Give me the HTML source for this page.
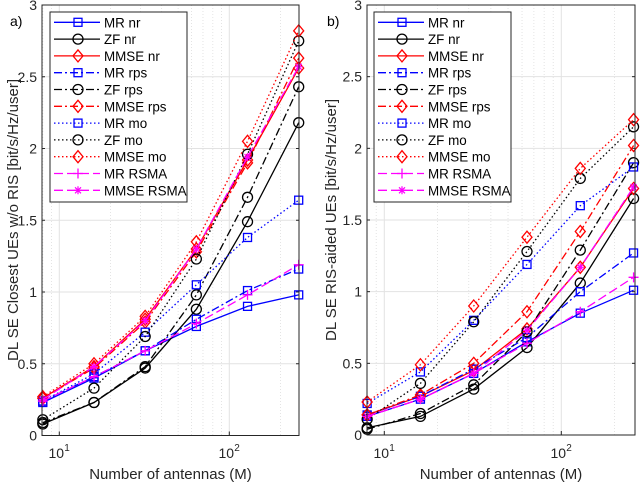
<!DOCTYPE html>
<html><head><meta charset="utf-8">
<style>
body{margin:0;background:#fff;}
svg{display:block;font-family:"Liberation Sans",sans-serif;}
</style></head>
<body>
<svg id="chart" width="640" height="483" viewBox="0 0 640 483" xmlns="http://www.w3.org/2000/svg"></svg>
<script>
const antennas=[8,16,32,64,128,256];
const yTicks=[0,0.5,1,1.5,2,2.5,3];
const yTickLabels=["0","0.5","1","1.5","2","2.5","3"];
const seriesNames=["MR nr","ZF nr","MMSE nr","MR rps","ZF rps","MMSE rps","MR mo","ZF mo","MMSE mo","MR RSMA","MMSE RSMA"];
const leftMRnr=[0.23,0.40,0.59,0.76,0.90,0.98];
const leftZFnr=[0.08,0.23,0.47,0.88,1.49,2.18];
const leftMMSEnr=[0.26,0.48,0.81,1.30,1.92,2.56];
const leftMRrps=[0.24,0.41,0.59,0.81,1.01,1.16];
const leftZFrps=[0.09,0.23,0.48,0.98,1.66,2.43];
const leftMMSErps=[0.26,0.47,0.79,1.28,1.90,2.63];
const leftMRmo=[0.24,0.43,0.72,1.05,1.38,1.64];
const leftZFmo=[0.11,0.33,0.69,1.23,1.96,2.75];
const leftMMSEmo=[0.27,0.50,0.83,1.35,2.05,2.82];
const leftMRrsma=[0.24,0.41,0.59,0.78,0.98,1.19];
const leftMMSErsma=[0.25,0.48,0.80,1.30,1.94,2.57];
const rightMRnr=[0.13,0.25,0.43,0.65,0.85,1.01];
const rightZFnr=[0.05,0.13,0.32,0.61,1.06,1.65];
const rightMMSEnr=[0.14,0.27,0.45,0.74,1.17,1.72];
const rightMRrps=[0.14,0.27,0.46,0.68,1.00,1.27];
const rightZFrps=[0.04,0.15,0.35,0.72,1.29,1.90];
const rightMMSErps=[0.14,0.28,0.50,0.86,1.42,2.02];
const rightMRmo=[0.22,0.44,0.80,1.19,1.60,1.87];
const rightZFmo=[0.11,0.36,0.79,1.28,1.79,2.15];
const rightMMSEmo=[0.23,0.49,0.90,1.38,1.86,2.20];
const rightMRrsma=[0.13,0.25,0.43,0.64,0.86,1.10];
const rightMMSErsma=[0.13,0.25,0.43,0.73,1.17,1.73];

const styles=[
 {c:"#0000ff",d:"",m:"sq"},{c:"#000",d:"",m:"ci"},{c:"#ff0000",d:"",m:"di"},
 {c:"#0000ff",d:"8,3,2,3",m:"sq"},{c:"#000",d:"8,3,2,3",m:"ci"},{c:"#ff0000",d:"8,3,2,3",m:"di"},
 {c:"#0000ff",d:"1.5,2.5",m:"sq"},{c:"#000",d:"1.5,2.5",m:"ci"},{c:"#ff0000",d:"1.5,2.5",m:"di"},
 {c:"#ff00ff",d:"9,4",m:"pl"},{c:"#ff00ff",d:"9,4",m:"st"}];
const NS="http://www.w3.org/2000/svg";
const svg=document.getElementById('chart');
function el(t,a,p){const e=document.createElementNS(NS,t);for(const k in a)e.setAttribute(k,a[k]);(p||svg).appendChild(e);return e;}
function marker(g,m,x,y,c){
 let e;
 if(m==="sq"){e=el('rect',{x:x-4,y:y-4,width:8,height:8,fill:'none',stroke:c,'stroke-width':1.3},g);}
 else if(m==="ci"){e=el('circle',{cx:x,cy:y,r:5,fill:'none',stroke:c,'stroke-width':1.3},g);}
 else if(m==="di"){e=el('path',{d:`M${x} ${y-6}L${x+5} ${y}L${x} ${y+6}L${x-5} ${y}Z`,fill:'none',stroke:c,'stroke-width':1.3},g);}
 else if(m==="pl"){e=el('path',{d:`M${x-5} ${y}H${x+5}M${x} ${y-5}V${y+5}`,fill:'none',stroke:c,'stroke-width':1.3},g);}
 else {e=el('path',{d:`M${x-4} ${y}H${x+4}M${x} ${y-4}V${y+4}M${x-3} ${y-3}L${x+3} ${y+3}M${x-3} ${y+3}L${x+3} ${y-3}`,fill:'none',stroke:c,'stroke-width':1.2},g);}
 
 
}
function panel(p){
 const g=el('g',{});
 
 
 const xs=v=>p.x10+(Math.log10(v)-1)*p.dec;
 const ys=v=>p.y0-(v/3)*(p.y0-p.y3);
 el('rect',{x:p.L,y:p.y3,width:p.R-p.L,height:p.y0-p.y3,fill:'#fff'},g);
 for(let d=1;d<=2;d++)for(let k=2;k<=9;k++){const val=k*Math.pow(10,d);if(val<8||val>256)continue;const x=xs(val);el('line',{x1:x,x2:x,y1:p.y3,y2:p.y0,stroke:'#ddd','stroke-width':0.8,'stroke-dasharray':'1,2'},g);}
 [8,9].forEach(v=>{const x=xs(v);el('line',{x1:x,x2:x,y1:p.y3,y2:p.y0,stroke:'#ddd','stroke-width':0.8,'stroke-dasharray':'1,2'},g);});
 [10,100].forEach(v=>{const x=xs(v);el('line',{x1:x,x2:x,y1:p.y3,y2:p.y0,stroke:'#e2e2e2','stroke-width':1},g);});
 yTicks.forEach((v,i)=>{const y=ys(v);el('line',{x1:p.L,x2:p.R,y1:y,y2:y,stroke:'#e2e2e2','stroke-width':1},g);
  const t=el('text',{x:p.L-5,y:y+5,'text-anchor':'end','font-size':14,fill:'#262626'},g);t.textContent=yTickLabels[i];
  
  el('line',{x1:p.L,x2:p.L+3,y1:y,y2:y,stroke:'#262626'},g);el('line',{x1:p.R-3,x2:p.R,y1:y,y2:y,stroke:'#262626'},g);});
 [[10,"1"],[100,"2"]].forEach(([v,e])=>{const x=xs(v);const t=el('text',{x:x-3,y:458,'text-anchor':'middle','font-size':14,fill:'#262626'},g);t.textContent="10";
  
  const s=el('text',{x:x+5,y:451,'font-size':10,fill:'#262626'},g);s.textContent=e;
  el('line',{x1:x,x2:x,y1:p.y0,y2:p.y0-4,stroke:'#262626'},g);});
 p.data.forEach((arr,i)=>{const s=styles[i];const sg=el('g',{},g);
  
  
  const pts=arr.map((v,j)=>xs(antennas[j]).toFixed(1)+','+ys(v).toFixed(1)).join(' ');
  const a={points:pts,fill:'none',stroke:s.c,'stroke-width':1.3};if(s.d)a['stroke-dasharray']=s.d;el('polyline',a,sg);
  arr.forEach((v,j)=>marker(sg,s.m,xs(antennas[j]),ys(v),s.c));});
 el('rect',{x:p.L,y:p.y3,width:p.R-p.L,height:p.y0-p.y3,fill:'none',stroke:'#262626','stroke-width':1},g);
 const lg=el('g',{},g);
 el('rect',{x:p.lx,y:12,width:137,height:190,fill:'#fff',stroke:'#262626','stroke-width':1},lg);
 seriesNames.forEach((n,i)=>{const s=styles[i];const y=22.3+i*16.8;
  const a={x1:p.lx+4,x2:p.lx+50,y1:y,y2:y,stroke:s.c,'stroke-width':1.3};if(s.d)a['stroke-dasharray']=s.d;el('line',a,lg);
  marker(lg,s.m,p.lx+28,y,s.c);
  const t=el('text',{x:p.lx+54,y:y+5,'font-size':13.4,fill:'#000'},lg);t.textContent=n;
  });
 const lb=el('text',{x:p.labx,y:26,'font-size':14,fill:'#000'},g);lb.textContent=p.label;
 
 const xt=el('text',{x:(p.L+p.R)/2,y:479,'text-anchor':'middle','font-size':15,fill:'#262626'},g);xt.textContent="Number of antennas (M)";
 
 const yt=el('text',{x:0,y:0,'text-anchor':'middle','font-size':15,fill:'#262626',transform:`translate(${p.ytx},${p.yty}) rotate(-90)`},g);yt.textContent=p.ylabel;
 
}
panel({name:'panel-a',L:42,R:299,x10:59.3,dec:170,y0:435.5,y3:5,lx:50,labx:10,label:'a)',ytx:18,yty:220,ylabel:'DL SE Closest UEs w/o RIS [bit/s/Hz/user]',
 data:[leftMRnr,leftZFnr,leftMMSEnr,leftMRrps,leftZFrps,leftMMSErps,leftMRmo,leftZFmo,leftMMSEmo,leftMRrsma,leftMMSErsma]});
panel({name:'panel-b',L:367,R:635,x10:384.3,dec:177,y0:435,y3:5,lx:374,labx:327,label:'b)',ytx:336,yty:220,ylabel:'DL SE RIS-aided UEs [bit/s/Hz/user]',
 data:[rightMRnr,rightZFnr,rightMMSEnr,rightMRrps,rightZFrps,rightMMSErps,rightMRmo,rightZFmo,rightMMSEmo,rightMRrsma,rightMMSErsma]});
</script>
</body></html>
